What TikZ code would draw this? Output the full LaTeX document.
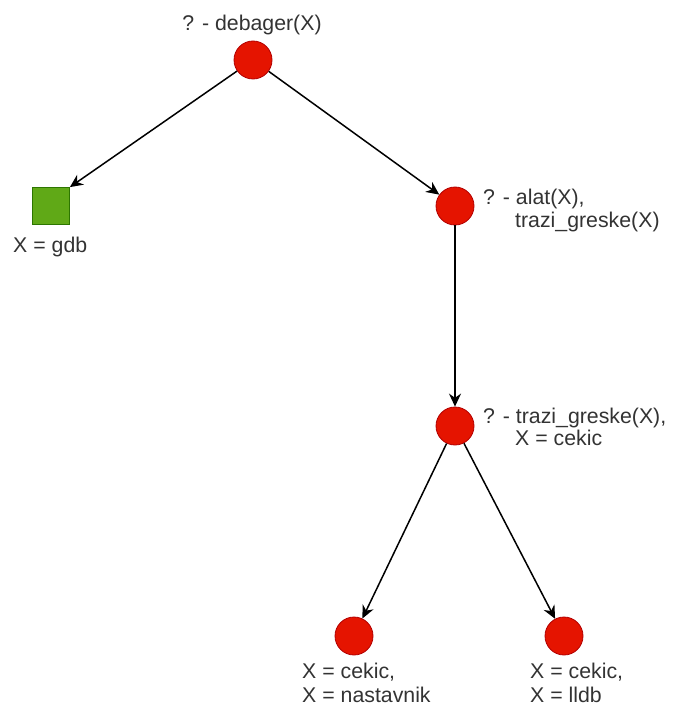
\documentclass[tikz,border=0pt]{standalone}
\usepackage{fontspec}
\setmainfont{Liberation Sans}
\usetikzlibrary{arrows.meta}
\definecolor{redfill}{HTML}{E51400}
\definecolor{redline}{HTML}{B20000}
\definecolor{greenfill}{HTML}{60A917}
\definecolor{greenline}{HTML}{2D7600}
\definecolor{txt}{HTML}{333333}
\tikzset{
  goal/.style={circle, fill=redfill, draw=redline, line width=0.8pt, minimum size=38pt, inner sep=0pt},
  success/.style={rectangle, fill=greenfill, draw=greenline, line width=0.8pt, minimum size=37pt, inner sep=0pt},
  lbl/.style={anchor=base west, inner sep=0pt, text=txt, font=\fontsize{21.3}{23.5}\selectfont},
  lblc/.style={anchor=base, inner sep=0pt, text=txt, font=\fontsize{21.3}{23.5}\selectfont},
  edge/.style={draw=black, line width=1.5pt, -{Stealth[length=13pt,width=12pt]}}
}
\begin{document}
\begin{tikzpicture}[x=1pt,y=-1pt]
\useasboundingbox (0,0) rectangle (673,706);
\node[goal] (root) at (253,60) {};
\node[success] (sq) at (51,206) {};
\node[goal] (a) at (455,206) {};
\node[goal] (b) at (455,426) {};
\node[goal] (c) at (354,636) {};
\node[goal] (d) at (564,636) {};

\node[lblc] (lroot) at (252,31) {? - debager(X)};
\node[lbl] (lsq) at (13,252) {X = gdb};
\node[lbl] (la1) at (483,204) {? - alat(X),};
\node[lbl] (la2) at (515,227) {trazi\_greske(X)};
\node[lbl] (lb1) at (483,423) {? - trazi\_greske(X),};
\node[lbl] (lb2) at (515,445) {X = cekic};
\node[lbl] (lc1) at (302,678) {X = cekic,};
\node[lbl] (lc2) at (302,702) {X = nastavnik};
\node[lbl] (ld1) at (530,678) {X = cekic,};
\node[lbl] (ld2) at (530,702) {X = lldb};

\draw[edge] (root) -- (sq.north east);
\draw[edge] (root) -- (a);
\draw[edge] (a) -- (b);
\draw[edge] (b) -- (c);
\draw[edge] (b) -- (d);
\end{tikzpicture}
\end{document}
